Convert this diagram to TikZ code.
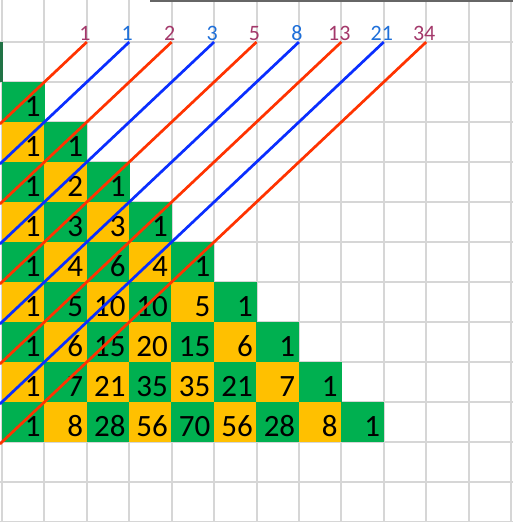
\documentclass[tikz,border=0pt]{standalone}
\usepackage{fontspec}
\setmainfont{Carlito}
\usetikzlibrary{positioning}

\definecolor{cellgreen}{HTML}{00B050}
\definecolor{cellgold}{HTML}{FFC000}
\definecolor{gridgray}{HTML}{D6D6D6}
\definecolor{redline}{HTML}{FF3300}
\definecolor{blueline}{HTML}{0A2EFF}
\definecolor{redlabel}{HTML}{A3386A}
\definecolor{bluelabel}{HTML}{1E6FD9}
\definecolor{selgreen}{HTML}{217346}

\begin{document}
\begin{tikzpicture}[x=42.42pt, y=-40pt,
        gridline/.style = {gridgray, line width=2pt},
        cell/.style = {minimum width=42.9pt, minimum height=40.5pt, inner sep=0pt},
        entry/.style = {anchor=base east, inner sep=0pt, font=\fontsize{31}{31}\selectfont},
        diag/.style = {line width=2.7pt},
        fiblabel/.style = {anchor=south, inner sep=0pt, font=\fontsize{22}{22}\selectfont}
    ]
        \useasboundingbox (-0.0471,-0.05) rectangle (12.046,13);
        % sheet
        \foreach \c in {0,...,12} \draw[gridline] (\c,-0.05) -- (\c,13);
        \foreach \r in {1,...,13} \draw[gridline] (-0.05,\r) -- (12.05,\r);
        \draw[black!60, line width=1.5pt] (3.5,-0.03) -- (12.05,-0.03);
        \fill[selgreen] (-0.0471,1) rectangle (0.02,2);

        % pascal triangle
        \foreach \row [count=\n from 0] in {{1},{1,1},{1,2,1},{1,3,3,1},{1,4,6,4,1},{1,5,10,10,5,1},{1,6,15,20,15,6,1},{1,7,21,35,35,21,7,1},{1,8,28,56,70,56,28,8,1}} {
            \foreach \val [count=\k from 0] in \row {
                \pgfmathtruncatemacro\parity{mod(\n+\k,2)}
                \ifnum\parity=0 \def\shade{cellgreen}\else\def\shade{cellgold}\fi
                \node[cell, fill=\shade] (p-\n-\k) at (\k+0.5,\n+2.5) {};
                \node[entry] (v-\n-\k) at ([xshift=-4pt, yshift=6pt]p-\n-\k.south east) {\val};
            }
        }

        % shallow diagonals
        \foreach \f [count=\i from 0] in {1,1,2,3,5,8,13,21,34} {
            \pgfmathtruncatemacro\parity{mod(\i,2)}
            \ifnum\parity=0 \def\ink{redline}\def\tag{redlabel}\else\def\ink{blueline}\def\tag{bluelabel}\fi
            \coordinate (top-\i) at (\i+2,1);
            \coordinate (foot-\i) at (-0.05,\i+3.05);
            \draw[diag, color=\ink] (foot-\i) -- (top-\i);
            \node[fiblabel, text=\tag] (fib-\i) at ([xshift=-2pt, yshift=1pt]top-\i) {\f};
        }
    \end{tikzpicture}
\end{document}
